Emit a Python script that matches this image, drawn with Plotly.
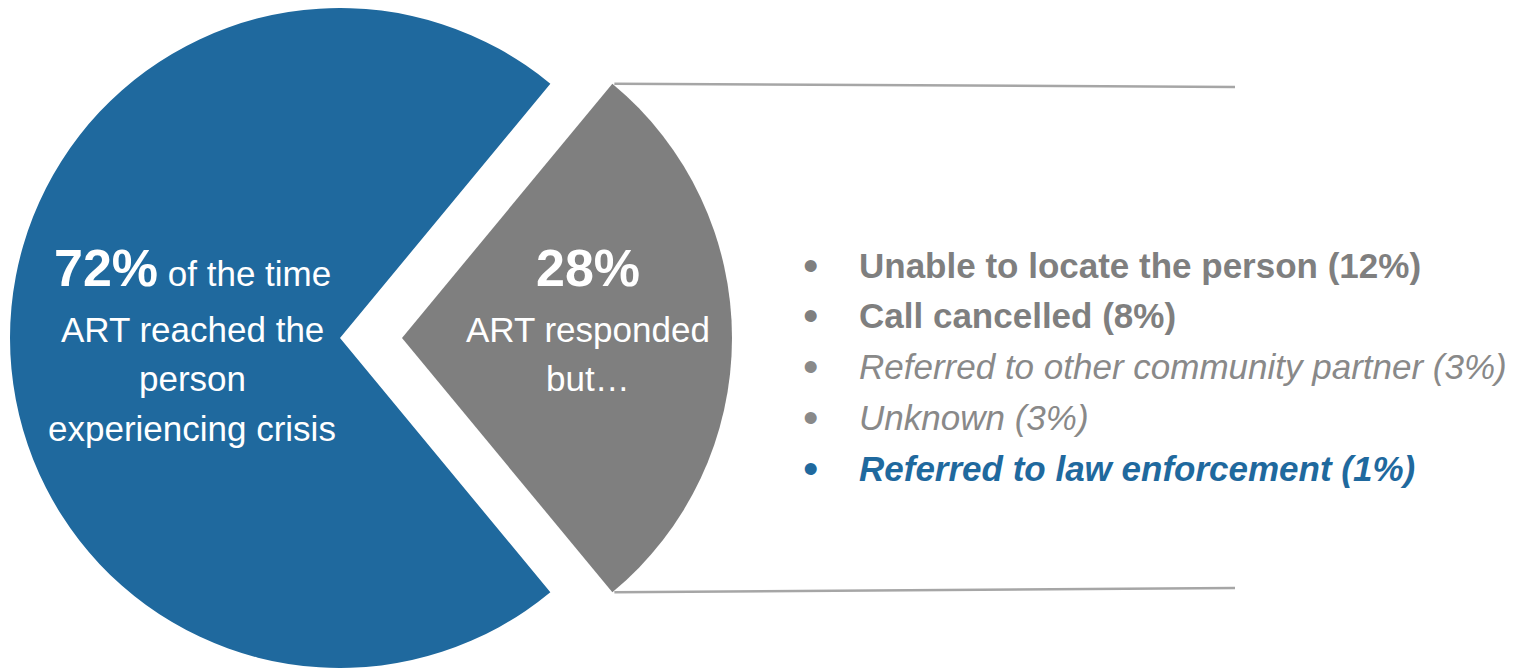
import math

import plotly.graph_objects as go

# ── data ───────────────────────────────────────────────────────────────────────
outcome_labels = ["ART responded but…", "ART reached the person"]
outcome_values = [28, 72]

reached_lines = ["of the time", "ART reached the", "person", "experiencing crisis"]
responded_lines = ["ART responded", "but…"]

reason_labels = [
    "Unable to locate the person",
    "Call cancelled",
    "Referred to other community partner",
    "Unknown",
    "Referred to law enforcement",
]
reason_pcts = [12, 8, 3, 3, 1]

# ── style ──────────────────────────────────────────────────────────────────────
BLUE = "#1F699E"
GRAY = "#7F7F7F"
LIGHT = "#898989"
LINE = "#A6A6A6"
FONT = "Liberation Sans, Arial, sans-serif"
PAGE_W, PAGE_H = 1514, 668
BODY = 8                              # default <body> margin of the html page
W, H = PAGE_W - BODY, PAGE_H - BODY   # figure fits the window exactly
R = 330                               # pie radius in px
CX_MAIN, CX_PULL = 340, 402           # page x of the pie centre / pulled slice vertex

# (bold, italic, colour) for each reason row
reason_styles = [
    (True, False, GRAY),
    (True, False, GRAY),
    (False, True, LIGHT),
    (False, True, LIGHT),
    (True, True, BLUE),
]


# page pixel -> paper coordinate
def px(x):
    return (x - BODY) / W


def py(y):
    return 1 - (y - BODY) / H


def dom_x(cx):
    return [px(cx - R), px(cx + R)]


total = sum(outcome_values)
half_angle = 360 * outcome_values[0] / total / 2
rotation = 90 - half_angle

common = dict(
    labels=outcome_labels,
    values=outcome_values,
    sort=False,
    direction="clockwise",
    rotation=rotation,
    textinfo="none",
    hoverinfo="label+percent",
    showlegend=False,
)

fig = go.Figure()
# main (blue) share, drawn about its own centre
fig.add_trace(go.Pie(
    **common,
    domain=dict(x=dom_x(CX_MAIN), y=[0, 1]),
    marker=dict(colors=["rgba(0,0,0,0)", BLUE], line=dict(width=0)),
))
# pulled-out (gray) share
fig.add_trace(go.Pie(
    **common,
    domain=dict(x=dom_x(CX_PULL), y=[0, 1]),
    marker=dict(colors=[GRAY, "rgba(0,0,0,0)"], line=dict(width=0)),
))

cy = BODY + H / 2     # page y of the pie centre
ann = []
big = "<b><span style='font-size:52px'>{}%</span></b>"

# text inside the blue share
blue_x = 192
ann.append(dict(x=px(blue_x), y=py(268),
                text=big.format(outcome_values[1]) + " " + reached_lines[0]))
for i, t in enumerate(reached_lines[1:]):
    ann.append(dict(x=px(blue_x), y=py(329 + 49.5 * i), text=t))

# text inside the gray share
gray_x = 588
ann.append(dict(x=px(gray_x), y=py(268), text=big.format(outcome_values[0])))
for i, t in enumerate(responded_lines):
    ann.append(dict(x=px(gray_x), y=py(329 + 49.5 * i), text=t))

for a in ann:
    a.update(xref="paper", yref="paper", xanchor="center", yanchor="middle",
             showarrow=False, font=dict(family=FONT, size=35, color="white"))

# breakdown list
for i, (lab, pct) in enumerate(zip(reason_labels, reason_pcts)):
    bold, italic, colour = reason_styles[i]
    txt = f"{lab} ({pct}%)"
    if italic:
        txt = f"<i>{txt}</i>"
    if bold:
        txt = f"<b>{txt}</b>"
    yy = py(265 + 50.75 * i)
    ann.append(dict(x=px(810), y=yy, text="•", xanchor="center", yanchor="middle",
                    xref="paper", yref="paper", showarrow=False,
                    font=dict(family=FONT, size=44, color=colour)))
    ann.append(dict(x=px(857), y=yy, text=txt, xanchor="left", yanchor="middle",
                    xref="paper", yref="paper", showarrow=False,
                    font=dict(family=FONT, size=35, color=colour)))

# connector lines from the tips of the pulled slice
a = math.radians(half_angle)
tip_x = CX_PULL + R * math.cos(a)
tip_dy = R * math.sin(a)
shapes = [
    dict(type="line", xref="paper", yref="paper",
         x0=px(tip_x + 2), y0=py(cy - tip_dy), x1=px(1235), y1=py(87),
         line=dict(color=LINE, width=2.5)),
    dict(type="line", xref="paper", yref="paper",
         x0=px(tip_x + 2), y0=py(cy + tip_dy), x1=px(1235), y1=py(588),
         line=dict(color=LINE, width=2.5)),
]

fig.update_layout(
    width=W, height=H,
    margin=dict(l=0, r=0, t=0, b=0),
    paper_bgcolor="white",
    plot_bgcolor="white",
    annotations=ann,
    shapes=shapes,
)

fig.write_html("out.html")
